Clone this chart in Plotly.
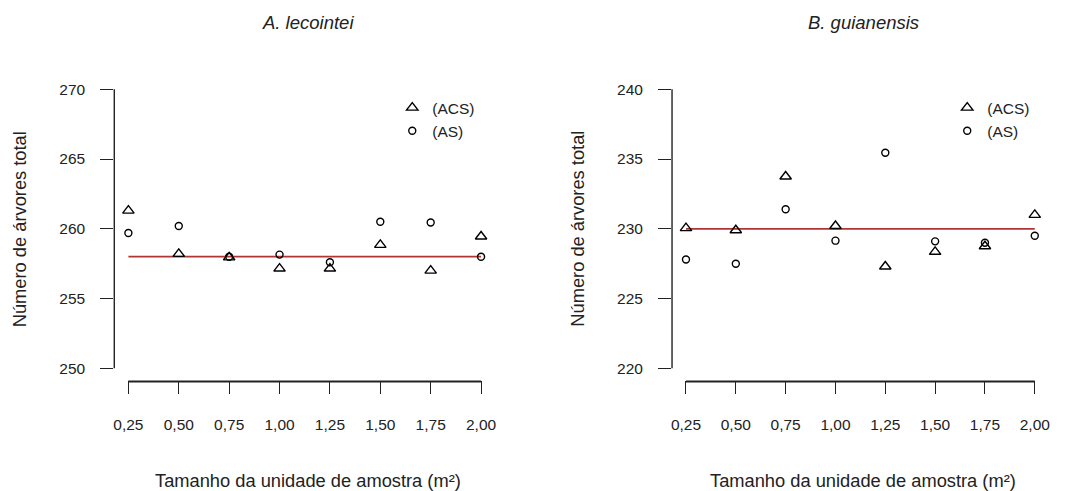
import plotly.graph_objects as go

# ---- data ----
sizes = [0.25, 0.50, 0.75, 1.00, 1.25, 1.50, 1.75, 2.00]
size_labels = ["0,25", "0,50", "0,75", "1,00", "1,25", "1,50", "1,75", "2,00"]

acs_lecointei = [261.3, 258.2, 257.95, 257.15, 257.15, 258.85, 257.0, 259.45]
as_lecointei = [259.7, 260.2, 258.0, 258.15, 257.6, 260.5, 260.45, 258.0]
ref_lecointei = 258.0

acs_guianensis = [230.05, 229.9, 233.75, 230.2, 227.3, 228.35, 228.75, 231.0]
as_guianensis = [227.8, 227.5, 231.4, 229.15, 235.45, 229.1, 229.0, 229.5]
ref_guianensis = 230.0

yticks_lecointei = [250, 255, 260, 265, 270]
yticks_guianensis = [220, 225, 230, 235, 240]

titles = ["A. lecointei", "B. guianensis"]
ytitle = "Número de árvores total"
xtitle = "Tamanho da unidade de amostra (m²)"
series_names = ["(ACS)", "(AS)"]

# ---- layout geometry ----
W, H = 1065, 491
FONT = "Liberation Sans, Arial, sans-serif"
INK = "#222222"
dom_x = [[113.5 / W, 495.1 / W], [672.3 / W, 1049.7 / W]]
dom_y = [1 - 379.5 / H, 1 - 78.1 / H]


def ext(lo, hi, f=0.04):
    d = (hi - lo) * f
    return [lo - d, hi + d]


def to_paper(v, rng, dom):
    return dom[0] + (v - rng[0]) / (rng[1] - rng[0]) * (dom[1] - dom[0])


xr = ext(min(sizes), max(sizes))
panels = [
    (acs_lecointei, as_lecointei, ref_lecointei, yticks_lecointei),
    (acs_guianensis, as_guianensis, ref_guianensis, yticks_guianensis),
]

fig = go.Figure()
shapes = []
annotations = []
for i, (acs, as_, ref, yt) in enumerate(panels):
    n = "" if i == 0 else str(i + 1)
    xa, ya = "x" + n, "y" + n
    leg = "legend" if i == 0 else "legend2"
    yr = ext(min(yt), max(yt))
    # reference line
    fig.add_trace(go.Scatter(
        x=[min(sizes), max(sizes)], y=[ref, ref], mode="lines",
        line=dict(color="#b03535", width=1.8), showlegend=False,
        xaxis=xa, yaxis=ya, hoverinfo="skip"))
    fig.add_trace(go.Scatter(
        x=sizes, y=acs, mode="markers", name=series_names[0],
        marker=dict(symbol="triangle-up-open", size=10, color="black",
                    line=dict(width=1.4, color="black")),
        xaxis=xa, yaxis=ya, legend=leg))
    fig.add_trace(go.Scatter(
        x=sizes, y=as_, mode="markers", name=series_names[1],
        marker=dict(symbol="circle-open", size=7, color="black",
                    line=dict(width=1.4, color="black")),
        xaxis=xa, yaxis=ya, legend=leg))

    axis_common = dict(showgrid=False, zeroline=False, showline=False,
                       ticks="outside", ticklen=13, tickwidth=1.4,
                       tickcolor=INK,
                       tickfont=dict(family=FONT, size=15.5, color=INK))
    fig.update_layout(**{
        "xaxis" + n: dict(domain=dom_x[i], range=xr, anchor=ya,
                          tickvals=sizes, ticktext=size_labels,
                          ticklabelstandoff=18, **axis_common),
        "yaxis" + n: dict(domain=dom_y, range=yr, anchor=xa,
                          tickvals=yt, ticktext=[str(v) for v in yt],
                          ticklabelstandoff=12, **axis_common),
    })
    # R-style axis lines spanning first to last tick (paper coords from data)
    xl0 = to_paper(min(sizes), xr, dom_x[i])
    xl1 = to_paper(max(sizes), xr, dom_x[i])
    yl = dom_y[0] - 2 / H
    shapes.append(dict(type="line", xref="paper", yref="paper",
                       x0=xl0, x1=xl1, y0=yl, y1=yl,
                       line=dict(color=INK, width=2)))
    shapes.append(dict(type="line", xref="paper", yref="paper",
                       x0=dom_x[i][0], x1=dom_x[i][0],
                       y0=to_paper(min(yt), yr, dom_y),
                       y1=to_paper(max(yt), yr, dom_y),
                       line=dict(color=INK, width=1.4)))
    cx = (dom_x[i][0] + dom_x[i][1]) / 2 + 3 / W
    annotations.append(dict(text="<i>" + titles[i] + "</i>", xref="paper",
                            yref="paper", x=cx, y=1 - 22 / H, showarrow=False,
                            xanchor="center", yanchor="middle",
                            font=dict(family=FONT, size=18.5, color=INK)))
    annotations.append(dict(text=xtitle, xref="paper", yref="paper", x=cx,
                            y=1 - 480 / H, showarrow=False, xanchor="center",
                            yanchor="middle",
                            font=dict(family=FONT, size=18.3, color=INK)))
    ycx = (18.5 if i == 0 else 578) / W
    annotations.append(dict(text=ytitle, xref="paper", yref="paper", x=ycx,
                            y=(dom_y[0] + dom_y[1]) / 2, textangle=-90,
                            showarrow=False, xanchor="center", yanchor="middle",
                            font=dict(family=FONT, size=18.3, color=INK)))

legend_common = dict(font=dict(family=FONT, size=15.5, color=INK),
                     bgcolor="rgba(0,0,0,0)", yanchor="top", xanchor="left",
                     tracegroupgap=0, itemwidth=30)
fig.update_layout(
    width=W, height=H, margin=dict(l=0, r=0, t=0, b=0),
    paper_bgcolor="white", plot_bgcolor="white",
    shapes=shapes, annotations=annotations,
    legend=dict(x=392 / W, y=1 - 91 / H, **legend_common),
    legend2=dict(x=948 / W, y=1 - 91 / H, **legend_common),
    showlegend=True,
)

fig.write_html("out.html")
